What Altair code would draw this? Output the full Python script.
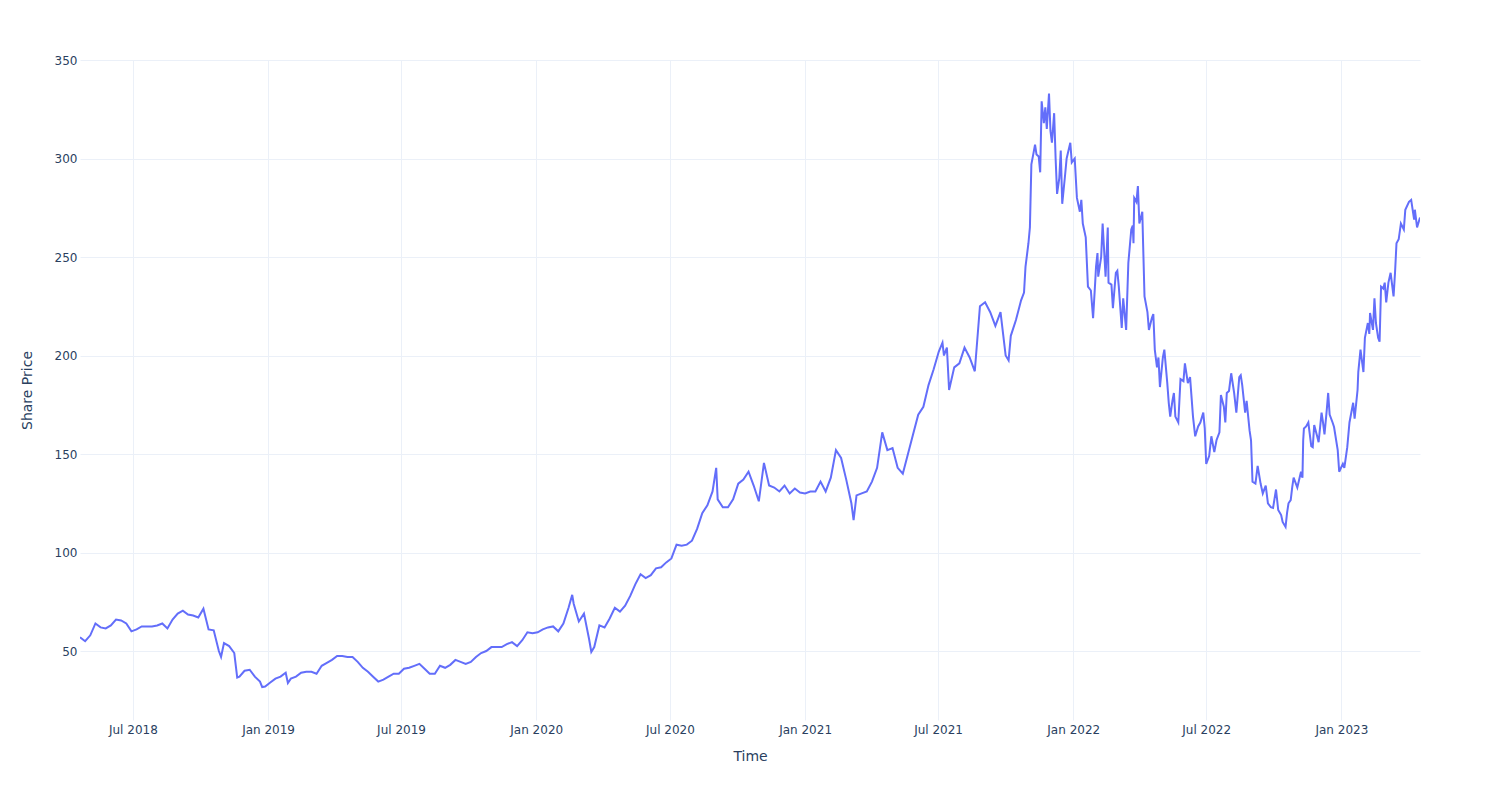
import altair as alt
import pandas as pd

# Weekly share price readings, Apr 20 2018 - Oct 22 2021 (Fridays)
weekly_start = "2018-04-20"
weekly_prices = [
    57, 55, 58, 64, 62, 61.5, 63, 66, 65.5, 64, 60, 61, 62.5, 62.5, 62.5, 63, 64, 61.5, 66, 69, 70.5, 68.5, 68, 67, 71.5,
    61, 60.5, 50, 54, 52.5, 49, 37, 40, 40.5, 37, 34.5, 32, 34, 36, 37, 39, 36, 37, 39, 39.5, 39.5, 38.5, 42.5, 44, 45.5, 47.5,
    47.5, 47, 47, 44.5, 41.5, 39.5, 37, 34.5, 35.5, 37, 38.5, 38.5, 41, 41.5, 42.5, 43.5, 41, 38.5, 38.5, 42.5,
    41.5, 43, 45.5, 44.5, 43.5, 44.5, 47, 49, 50, 52, 52, 52, 53.5, 54.5, 52.5, 55.5, 59.5, 59, 59.5, 61, 62, 62.5, 60, 64,
    72, 74, 65, 69, 56, 52, 63, 62, 66.5, 72, 70, 73, 78, 84, 89, 87, 88.5, 92, 92.5, 95, 97, 104,
    103.5, 104, 106, 112, 120, 124, 131, 127, 123, 123, 127, 135, 137, 141, 134, 126, 145.5, 134, 133, 131, 134, 130, 132.5,
    130.5, 130, 131, 131, 136, 131, 138, 152, 148, 137, 125, 129, 130, 131, 136, 143, 161, 152, 153, 143, 140, 150, 160, 170,
    174, 185, 193, 202, 200, 182.5, 194, 196, 204, 199, 192, 225, 227, 222, 215, 222, 200, 210, 218, 228,
]

# Extra readings of short spikes/dips in the early period
extra_dates = ["2018-10-29", "2018-11-20", "2018-12-24", "2019-01-28", "2020-02-19", "2020-03-16",
               "2020-09-02", "2021-03-08", "2021-07-07", "2021-07-13", "2021-10-05"]
extra_prices = [47, 36.5, 31.7, 33.8, 78.5, 49.5, 143, 116.5, 206.5, 204, 197.5]

# Denser readings, Oct 2021 - Apr 2023
late_dates = [
    "2021-10-26", "2021-10-28", "2021-11-01", "2021-11-03", "2021-11-05", "2021-11-08", "2021-11-10", "2021-11-12",
    "2021-11-15", "2021-11-17", "2021-11-19", "2021-11-22", "2021-11-24", "2021-11-26", "2021-11-29", "2021-12-01",
    "2021-12-03", "2021-12-06", "2021-12-08", "2021-12-10", "2021-12-13", "2021-12-15", "2021-12-17", "2021-12-21",
    "2021-12-23", "2021-12-28", "2021-12-30", "2022-01-03", "2022-01-06", "2022-01-10", "2022-01-12", "2022-01-14",
    "2022-01-18", "2022-01-21", "2022-01-25", "2022-01-28", "2022-01-31", "2022-02-01", "2022-02-03", "2022-02-04",
    "2022-02-08", "2022-02-10", "2022-02-14", "2022-02-17", "2022-02-18", "2022-02-22", "2022-02-24", "2022-02-28",
    "2022-03-02", "2022-03-04", "2022-03-08", "2022-03-10", "2022-03-14", "2022-03-17", "2022-03-21", "2022-03-23",
    "2022-03-24", "2022-03-25", "2022-03-28", "2022-03-30", "2022-04-01", "2022-04-05", "2022-04-06", "2022-04-08",
    "2022-04-12", "2022-04-14", "2022-04-18", "2022-04-20", "2022-04-22", "2022-04-25", "2022-04-27", "2022-04-29",
    "2022-05-03", "2022-05-05", "2022-05-09", "2022-05-11", "2022-05-13", "2022-05-16", "2022-05-18", "2022-05-20",
    "2022-05-24", "2022-05-27", "2022-05-31", "2022-06-02", "2022-06-06", "2022-06-09", "2022-06-13", "2022-06-16",
    "2022-06-20", "2022-06-23", "2022-06-27", "2022-06-29", "2022-07-01", "2022-07-05", "2022-07-08", "2022-07-12",
    "2022-07-15", "2022-07-19", "2022-07-21", "2022-07-25", "2022-07-27", "2022-07-29", "2022-08-01", "2022-08-04",
    "2022-08-08", "2022-08-11", "2022-08-15", "2022-08-17", "2022-08-19", "2022-08-23", "2022-08-25", "2022-08-29",
    "2022-08-31", "2022-09-02", "2022-09-06", "2022-09-09", "2022-09-13", "2022-09-16", "2022-09-20", "2022-09-23",
    "2022-09-27", "2022-09-30", "2022-10-04", "2022-10-07", "2022-10-11", "2022-10-13", "2022-10-17", "2022-10-19",
    "2022-10-21", "2022-10-24", "2022-10-26", "2022-10-28", "2022-11-02", "2022-11-07", "2022-11-09", "2022-11-10",
    "2022-11-11", "2022-11-14", "2022-11-17", "2022-11-21", "2022-11-23", "2022-11-25", "2022-11-29", "2022-12-01",
    "2022-12-05", "2022-12-07", "2022-12-09", "2022-12-12", "2022-12-14", "2022-12-16", "2022-12-20", "2022-12-22",
    "2022-12-27", "2022-12-29", "2023-01-03", "2023-01-05", "2023-01-09", "2023-01-12", "2023-01-17", "2023-01-19",
    "2023-01-23", "2023-01-24", "2023-01-27", "2023-01-31", "2023-02-02", "2023-02-06", "2023-02-08", "2023-02-09",
    "2023-02-13", "2023-02-15", "2023-02-17", "2023-02-20", "2023-02-22", "2023-02-24", "2023-02-27", "2023-03-01",
    "2023-03-03", "2023-03-06", "2023-03-09", "2023-03-13", "2023-03-15", "2023-03-17", "2023-03-20", "2023-03-23",
    "2023-03-27", "2023-03-29", "2023-04-03", "2023-04-06", "2023-04-10", "2023-04-11", "2023-04-14", "2023-04-18",
]
late_prices = [
    232, 245, 257, 265, 297, 303, 307, 302,
    301, 293, 329, 318, 326, 315, 333, 314,
    308, 323, 300, 282, 290, 304, 277, 292,
    300, 308, 298, 300, 280, 273, 279, 267,
    260, 235, 233, 219, 238, 245, 252, 240,
    250, 267, 240, 265, 237, 236, 224, 242,
    243, 235, 214, 229, 213, 247, 264, 266,
    257, 280, 278, 286, 267, 273, 258, 230,
    222, 213, 219, 221, 203, 194, 199, 184,
    199, 203, 186, 176, 169, 177, 181, 169,
    166, 188, 187, 196, 186, 189, 169, 159,
    164, 166, 171, 163, 145, 149, 159, 151,
    157, 161, 180, 174, 166, 181, 182, 191,
    181, 171, 189, 190, 185, 171, 177, 162,
    157, 136, 135, 144, 135, 130, 134, 125,
    123, 122.6, 132, 121.6, 119, 115.5, 113, 120,
    125, 126.6, 133, 138, 133, 141, 138, 157,
    163, 164, 166, 154, 153.5, 164.7, 159, 156,
    171, 166, 160, 172, 181, 170, 166, 163.7,
    152, 141, 145, 143, 153.5, 166, 176, 168,
    182.5, 191.6, 203, 191.6, 209, 216.5, 211, 221.6,
    213, 229, 216.5, 209, 207, 235, 234, 237,
    227, 237, 242, 230, 242, 257, 259, 267,
    264, 274, 278, 279, 269, 274, 265, 270,
]

x_tick_dates = [(2018, 7), (2019, 1), (2019, 7), (2020, 1), (2020, 7), (2021, 1),
                (2021, 7), (2022, 1), (2022, 7), (2023, 1)]
y_ticks = [50, 100, 150, 200, 250, 300, 350]

df = pd.concat([
    pd.DataFrame({"Time": pd.date_range(weekly_start, periods=len(weekly_prices), freq="7D"),
                  "Share Price": weekly_prices}),
    pd.DataFrame({"Time": pd.to_datetime(extra_dates), "Share Price": extra_prices}),
    pd.DataFrame({"Time": pd.to_datetime(late_dates), "Share Price": late_prices}),
]).sort_values("Time").reset_index(drop=True)

text_color = "#2a3f5f"
grid_color = "#EBF0F8"
font = "DejaVu Sans"

x_axis = alt.Axis(
    values=[alt.DateTime(year=y, month=m, date=1) for y, m in x_tick_dates],
    format="%b %Y", title="Time", domain=False, ticks=False,
    grid=True, gridColor=grid_color, gridWidth=1,
    labelColor=text_color, labelFont=font, labelFontSize=12, labelPadding=4,
    labelOverlap=False,
    titleColor=text_color, titleFont=font, titleFontSize=14, titleFontWeight="normal",
    titleX=670, titleY=36, titleAlign="center", titleBaseline="middle",
)
y_axis = alt.Axis(
    values=y_ticks, title="Share Price", domain=False, ticks=False,
    grid=True, gridColor=grid_color, gridWidth=1,
    labelColor=text_color, labelFont=font, labelFontSize=12, labelPadding=3,
    titleColor=text_color, titleFont=font, titleFontSize=14, titleFontWeight="normal",
    titleX=-53, titleY=330, titleAlign="center", titleBaseline="middle", titleAngle=270,
)

chart = alt.Chart(df).mark_line(color="#636efa", strokeWidth=2, clip=True).encode(
    x=alt.X("Time:T", axis=x_axis,
            scale=alt.Scale(domain=[alt.DateTime(year=2018, month=4, date=20),
                                    alt.DateTime(year=2023, month=4, date=18)], nice=False)),
    y=alt.Y("Share Price:Q", axis=y_axis, scale=alt.Scale(domain=[15, 350], nice=False, zero=False)),
    order="Time:T",
).properties(
    width=1340, height=660, autosize="none",
    padding={"left": 80, "top": 60, "right": 80, "bottom": 80},
    background="white",
).configure_view(stroke=None)

chart.save("out.html", embed_options={"renderer": "svg", "actions": False})
